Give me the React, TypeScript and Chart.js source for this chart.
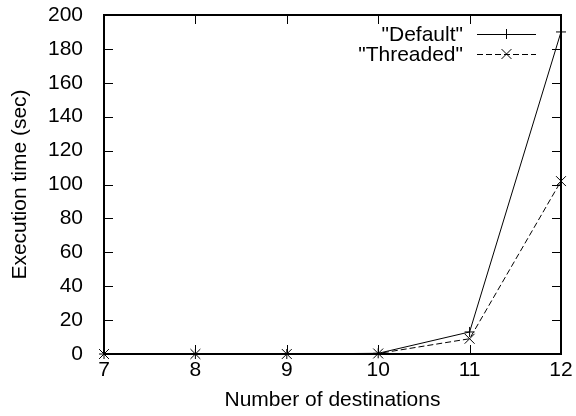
import { useEffect, useRef } from "react";
import { Chart, registerables } from "chart.js";

Chart.register(...registerables);

// ---- data ----
const destinations = [7, 8, 9, 10, 11, 12];
const defaultTimes = [0, 0, 0, 0.4, 13, 190];
const threadedTimes = [0, 0, 0, 0.3, 9, 102];
const xTickValues = [7, 8, 9, 10, 11, 12];
const yTickValues = [0, 20, 40, 60, 80, 100, 120, 140, 160, 180, 200];
const seriesLabels = ['"Default"', '"Threaded"'];
const xTitle = "Number of destinations";
const yTitle = "Execution time (sec)";

const FONT = "'Liberation Sans', Arial, Helvetica, sans-serif";
const FONT_SIZE = 21;
const INK = "#000000";

const gnuplotFrame = {
  id: "gnuplotFrame",
  beforeDatasetsDraw(chart: any) {
    const { ctx, chartArea } = chart;
    const { left, right, top, bottom } = chartArea;
    const xs = chart.scales.x;
    const ys = chart.scales.y;
    const tick = 9;
    ctx.save();
    ctx.strokeStyle = INK;
    ctx.lineWidth = 1;
    ctx.beginPath();
    for (const v of yTickValues) {
      const y = Math.round(ys.getPixelForValue(v)) + 0.5;
      ctx.moveTo(left, y);
      ctx.lineTo(left + tick, y);
      ctx.moveTo(right, y);
      ctx.lineTo(right - tick, y);
    }
    for (const v of xTickValues) {
      const x = Math.round(xs.getPixelForValue(v)) + 0.5;
      ctx.moveTo(x, bottom);
      ctx.lineTo(x, bottom - tick);
      ctx.moveTo(x, top);
      ctx.lineTo(x, top + tick);
    }
    ctx.stroke();
    ctx.lineWidth = 2;
    ctx.strokeRect(left, top, right - left, bottom - top);
    ctx.restore();
  },
  afterDraw(chart: any) {
    const { ctx, chartArea } = chart;
    const right = chartArea.right;
    const textRight = right - 98;
    const lineStart = right - 84;
    const lineEnd = right - 25;
    const rows = [chartArea.top + 19, chartArea.top + 39];
    ctx.save();
    ctx.font = `${FONT_SIZE}px ${FONT}`;
    ctx.fillStyle = INK;
    ctx.strokeStyle = INK;
    ctx.textAlign = "right";
    ctx.textBaseline = "middle";
    chart.data.datasets.forEach((ds: any, i: number) => {
      const y = rows[i];
      ctx.fillText(seriesLabels[i], textRight, y + 1);
      ctx.lineWidth = 1;
      ctx.setLineDash(ds.borderDash || []);
      ctx.beginPath();
      ctx.moveTo(lineStart, y + 0.5);
      ctx.lineTo(lineEnd, y + 0.5);
      ctx.stroke();
      ctx.setLineDash([]);
      const cx = (lineStart + lineEnd) / 2;
      ctx.beginPath();
      if (ds.pointStyle === "cross") {
        const r = ds.pointRadius;
        ctx.moveTo(cx - r, y + 0.5);
        ctx.lineTo(cx + r, y + 0.5);
        ctx.moveTo(cx, y - r);
        ctx.lineTo(cx, y + r);
      } else {
        const r = ds.pointRadius * Math.SQRT1_2;
        ctx.moveTo(cx - r, y - r);
        ctx.lineTo(cx + r, y + r);
        ctx.moveTo(cx + r, y - r);
        ctx.lineTo(cx - r, y + r);
      }
      ctx.stroke();
    });
    ctx.restore();
  },
};

export default function App() {
  const canvasRef = useRef<HTMLCanvasElement | null>(null);

  useEffect(() => {
    document.body.style.margin = "0";
    const canvas = canvasRef.current;
    if (!canvas) return;
    Chart.defaults.font.family = FONT;
    Chart.defaults.font.size = FONT_SIZE;
    Chart.defaults.color = INK;

    const chart = new Chart(canvas, {
      type: "line",
      data: {
        datasets: [
          {
            label: seriesLabels[0],
            data: destinations.map((d, i) => ({ x: d, y: defaultTimes[i] })),
            borderColor: INK,
            backgroundColor: INK,
            borderWidth: 1,
            pointStyle: "cross",
            pointRadius: 5,
            pointBorderWidth: 1,
            pointBorderColor: INK,
            fill: false,
            tension: 0,
            clip: false,
          },
          {
            label: seriesLabels[1],
            data: destinations.map((d, i) => ({ x: d, y: threadedTimes[i] })),
            borderColor: INK,
            backgroundColor: INK,
            borderWidth: 1,
            borderDash: [6, 3],
            pointStyle: "crossRot",
            pointRadius: 7,
            pointBorderWidth: 1,
            pointBorderColor: INK,
            fill: false,
            tension: 0,
            clip: false,
          },
        ],
      },
      options: {
        animation: false,
        responsive: false,
        devicePixelRatio: 1,
        events: [],
        layout: { padding: { left: 8, right: 15, top: 15, bottom: 3 } },
        plugins: {
          legend: { display: false },
          tooltip: { enabled: false },
        },
        scales: {
          x: {
            type: "linear",
            min: 7,
            max: 12,
            grid: { display: false },
            border: { display: false },
            afterBuildTicks: (scale: any) => {
              scale.ticks = xTickValues.map((v) => ({ value: v }));
            },
            afterFit: (scale: any) => {
              scale.height = 59;
              scale.paddingLeft = 0;
              scale.paddingRight = 0;
              scale.paddingTop = 0;
              scale.paddingBottom = 0;
            },
            ticks: { padding: -4, color: INK, font: { size: FONT_SIZE }, maxRotation: 0 },
            title: {
              display: true,
              text: xTitle,
              color: INK,
              font: { size: FONT_SIZE },
              padding: 0,
            },
          },
          y: {
            type: "linear",
            min: 0,
            max: 200,
            grid: { display: false },
            border: { display: false },
            afterBuildTicks: (scale: any) => {
              scale.ticks = yTickValues.map((v) => ({ value: v }));
            },
            afterFit: (scale: any) => {
              scale.width = 96;
              scale.paddingLeft = 0;
              scale.paddingRight = 0;
              scale.paddingTop = 0;
              scale.paddingBottom = 0;
            },
            ticks: { padding: 13, color: INK, font: { size: FONT_SIZE } },
            title: {
              display: true,
              text: yTitle,
              color: INK,
              font: { size: FONT_SIZE },
              padding: 0,
            },
          },
        },
      },
      plugins: [gnuplotFrame],
    });
    return () => chart.destroy();
  }, []);

  return (
    <div style={{ width: 576, height: 416, background: "#ffffff" }}>
      <canvas
        ref={canvasRef}
        width={576}
        height={416}
        style={{ display: "block", width: "576px", height: "416px" }}
      />
    </div>
  );
}
